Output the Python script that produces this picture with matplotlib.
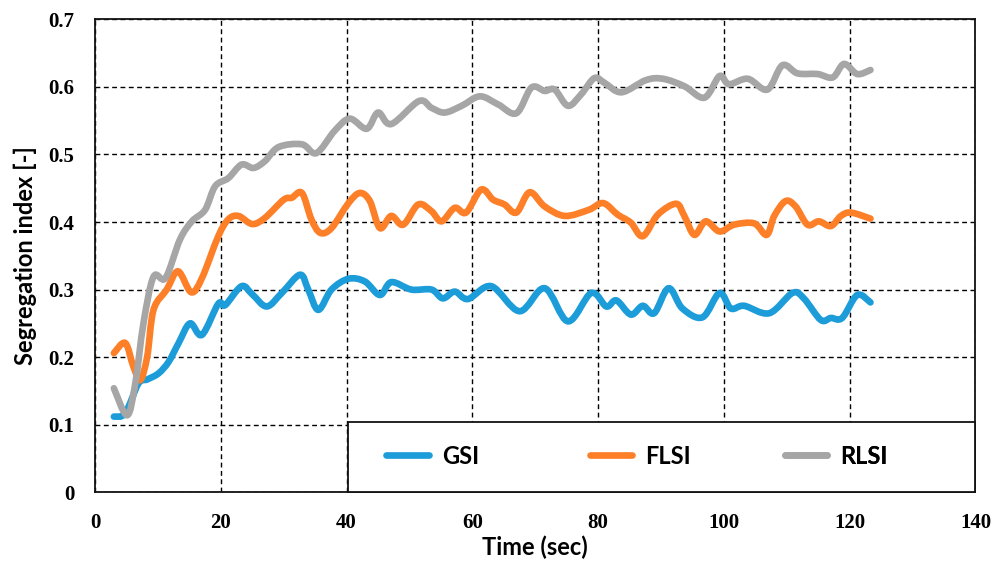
import matplotlib
matplotlib.use("Agg")
import matplotlib.pyplot as plt
import numpy as np
from matplotlib.patches import Rectangle, PathPatch
from matplotlib.path import Path
from matplotlib.lines import Line2D

# segregation indices over time (sec)
gsi_t = [3, 4.8, 6.9, 8.3, 10.1, 11.7, 13.3, 15.1, 17.0, 19.6, 20.7, 23.3, 25.0, 27.3,
         29.7, 32.6, 33.9, 35.5, 37.6, 40.3, 42.9, 45.3, 47.1, 50.3, 53.5, 55.3, 57.2,
         59.3, 63.0, 67.5, 71.5, 75.2, 78.9, 81.3, 82.9, 85.2, 87.1, 88.9, 91.2, 93.4,
         96.6, 99.3, 101.1, 103.2, 107.2, 110.9, 112.7, 115.4, 117.0, 118.8, 121.2, 123.3]
gsi_v = [0.112, 0.117, 0.161, 0.167, 0.176, 0.193, 0.221, 0.250, 0.233, 0.279, 0.277,
         0.305, 0.293, 0.275, 0.295, 0.322, 0.300, 0.270, 0.300, 0.316, 0.312, 0.292,
         0.311, 0.300, 0.300, 0.287, 0.297, 0.286, 0.305, 0.268, 0.302, 0.253, 0.295,
         0.275, 0.284, 0.263, 0.276, 0.265, 0.302, 0.272, 0.259, 0.295, 0.272, 0.276,
         0.265, 0.295, 0.287, 0.255, 0.258, 0.258, 0.292, 0.281]

flsi_t = [3, 4.8, 6.1, 7.2, 8.3, 9.3, 11.4, 13.2, 15.3, 17.0, 19.6, 21.2, 22.8, 25.0,
          27.0, 30.0, 31.3, 32.9, 34.4, 35.8, 37.6, 40.3, 42.1, 43.7, 45.3, 47.1, 49.0,
          51.4, 53.5, 55.1, 57.2, 59.0, 61.4, 63.3, 65.1, 67.0, 69.1, 71.5, 74.7, 78.5,
          80.8, 83.1, 85.2, 87.1, 89.5, 92.4, 93.7, 95.3, 97.1, 99.3, 101.6, 104.8, 106.8,
          108.0, 109.8, 111.4, 113.3, 115.1, 117.0, 118.6, 120.2, 123.3]
flsi_v = [0.206, 0.221, 0.186, 0.166, 0.201, 0.270, 0.300, 0.327, 0.296, 0.317, 0.379,
          0.404, 0.409, 0.397, 0.406, 0.433, 0.436, 0.443, 0.404, 0.384, 0.391, 0.428,
          0.443, 0.431, 0.391, 0.409, 0.396, 0.426, 0.416, 0.401, 0.421, 0.414, 0.448,
          0.433, 0.426, 0.414, 0.444, 0.423, 0.409, 0.418, 0.428, 0.411, 0.399, 0.379,
          0.411, 0.427, 0.409, 0.381, 0.401, 0.386, 0.396, 0.398, 0.381, 0.409, 0.431,
          0.423, 0.396, 0.401, 0.394, 0.409, 0.414, 0.405]

rlsi_t = [3, 5.1, 6.4, 7.7, 9.3, 11.2, 13.5, 15.4, 17.5, 19.1, 21.2, 23.3, 25.2, 27.0,
          29.2, 32.9, 35.2, 38.1, 40.5, 43.2, 45.0, 47.1, 51.5, 53.5, 55.6, 58.3, 61.2,
          64.1, 67.0, 69.4, 71.5, 73.1, 75.2, 77.3, 79.4, 81.0, 83.7, 87.6, 90.3, 93.7,
          96.9, 99.3, 100.8, 103.8, 106.9, 109.3, 111.7, 114.9, 117.3, 119.1, 121.2, 123.3]
rlsi_v = [0.154, 0.114, 0.161, 0.250, 0.319, 0.317, 0.374, 0.401, 0.418, 0.453, 0.465,
          0.485, 0.480, 0.490, 0.511, 0.515, 0.502, 0.535, 0.553, 0.538, 0.562, 0.545,
          0.579, 0.569, 0.562, 0.572, 0.586, 0.574, 0.561, 0.599, 0.594, 0.596, 0.572,
          0.589, 0.613, 0.606, 0.592, 0.610, 0.612, 0.601, 0.584, 0.616, 0.604, 0.612,
          0.596, 0.632, 0.620, 0.619, 0.614, 0.634, 0.619, 0.625]

series_names = ["GSI", "FLSI", "RLSI"]
x_ticks = [0, 20, 40, 60, 80, 100, 120, 140]
y_ticks = [0, 0.1, 0.2, 0.3, 0.4, 0.5, 0.6, 0.7]
y_tick_labels = ["0", "0.1", "0.2", "0.3", "0.4", "0.5", "0.6", "0.7"]

BLUE = "#1c9cd8"
ORANGE = "#fd7f28"
GREY = "#a6a6a6"
COLORS = [BLUE, ORANGE, GREY]

TICK_FONT = dict(family="Liberation Serif", weight="bold", size=15)
LABEL_FONT = dict(family="Lato", weight="bold", size=17)
LW = 4.8


def smooth_path(xs, ys, tension=1 / 6):
    # cubic bezier through every point, spreadsheet-style smoothed line
    p = np.column_stack([xs, ys]).astype(float)
    verts = [p[0]]
    codes = [Path.MOVETO]
    n = len(p)
    for i in range(n - 1):
        p0 = p[max(i - 1, 0)]
        p1 = p[i]
        p2 = p[i + 1]
        p3 = p[min(i + 2, n - 1)]
        c1 = p1 + (p2 - p0) * tension
        c2 = p2 - (p3 - p1) * tension
        verts += [c1, c2, p2]
        codes += [Path.CURVE4] * 3
    return Path(verts, codes)


def draw_series(ax, xs, ys, color):
    patch = PathPatch(smooth_path(xs, ys), facecolor="none", edgecolor=color,
                      lw=LW, joinstyle="round", capstyle="round", zorder=3)
    ax.add_patch(patch)


fig = plt.figure(figsize=(9.95, 5.63), dpi=100)
ax = fig.add_axes([0.0955, 0.1256, 0.8849, 0.8401])

draw_series(ax, gsi_t, gsi_v, BLUE)
draw_series(ax, flsi_t, flsi_v, ORANGE)
draw_series(ax, rlsi_t, rlsi_v, GREY)

ax.set_xlim(0, 140)
ax.set_ylim(0, 0.7)
ax.set_xticks(x_ticks)
ax.set_yticks(y_ticks)
ax.set_xticklabels([str(v) for v in x_ticks], **TICK_FONT)
ax.set_yticklabels(y_tick_labels, **TICK_FONT)
ax.tick_params(length=0)
ax.tick_params(axis="x", pad=15)
ax.tick_params(axis="y", pad=15)

ax.set_axisbelow(True)
ax.grid(True, color="black", lw=1.0, linestyle=(0, (3.5, 2.5)))
for s in ax.spines.values():
    s.set_linewidth(1.3)
    s.set_color("#111111")

ax.set_xlabel("Time (sec)", labelpad=2, **LABEL_FONT)
ax.set_ylabel("Segregation index [-]", labelpad=8, **LABEL_FONT)

# framed legend strip in the lower right corner, equal-width entries
box_x0 = 40.2 / 140
box_h = 0.149
ax.add_patch(Rectangle((box_x0, 0), 1 - box_x0, box_h, transform=ax.transAxes,
                       facecolor="white", edgecolor="#111111", lw=1.3, zorder=4,
                       clip_on=False))
entry_x = [0.331, 0.562, 0.7836]
for name, color, ex in zip(series_names, COLORS, entry_x):
    h = Line2D([], [], color=color, lw=LW, solid_capstyle="round")
    leg = ax.legend([h], [name], loc="center left",
                    bbox_to_anchor=(ex, box_h / 2 + 0.002), borderpad=0,
                    borderaxespad=0, frameon=False, handlelength=1.8,
                    handletextpad=0.55,
                    prop=dict(family="Lato", weight="bold", size=17))
    leg.set_zorder(5)
    ax.add_artist(leg)

fig.savefig("out.png", dpi=100)
